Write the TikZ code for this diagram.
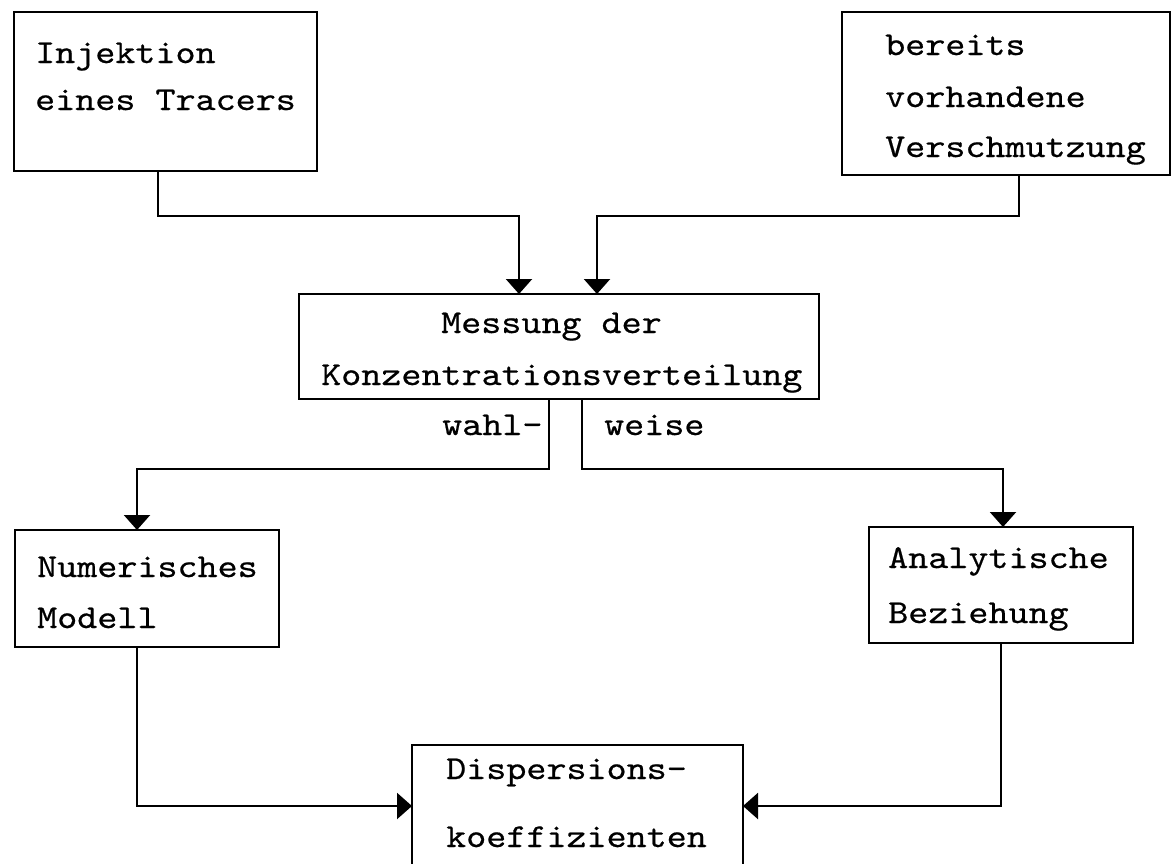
\documentclass[tikz,border=0pt]{standalone}
\usepackage{fontspec}
\newfontfamily\tw{lmmono10-regular.otf}[FakeStretch=1.14,FakeBold=0.5]
\usetikzlibrary{arrows.meta}
\begin{document}
\begin{tikzpicture}[x=1pt,y=-1pt,
  box/.style={draw, line width=2.2pt, inner sep=0pt, outer sep=0pt, rectangle},
  txt/.style={anchor=base west, inner sep=0pt, font=\tw\fontsize{33.5}{40}\selectfont},
  conn/.style={line width=2.2pt, -{Triangle[width=26pt,length=15pt]}}]
\useasboundingbox (0,0) rectangle (1173,863);
\clip (0,0) rectangle (1173,863);
\fill[white] (0,0) rectangle (1173,863);
% boxes
\node[box, minimum width=303pt, minimum height=159pt] (b1) at (165.5,91.5) {};
\node[box, minimum width=328pt, minimum height=163pt] (b2) at (1006,93.5) {};
\node[box, minimum width=520pt, minimum height=105pt] (b3) at (559,346.5) {};
\node[box, minimum width=264pt, minimum height=117pt] (b4) at (147,588.5) {};
\node[box, minimum width=264pt, minimum height=116pt] (b5) at (1001,585) {};
\node[box, minimum width=331pt, minimum height=146pt] (b6) at (577.5,818) {};
% texts
\node[txt] (t1a) at (35,63) {Injektion};
\node[txt] (t1b) at (35,110) {eines Tracers};
\node[txt] (t2a) at (885,55) {bereits};
\node[txt] (t2b) at (885,107) {vorhandene};
\node[txt] (t2c) at (885,157) {Verschmutzung};
\node[txt] (t3a) at (441,333) {Messung der};
\node[txt] (t3b) at (321,385) {Konzentrationsverteilung};
\node[txt] (tw1) at (442,435) {wahl-};
\node[txt] (tw2) at (604,435) {weise};
\node[txt] (t4a) at (37,577) {Numerisches};
\node[txt] (t4b) at (37,628) {Modell};
\node[txt] (t5a) at (888,568) {Analytische};
\node[txt] (t5b) at (888,623) {Beziehung};
\node[txt] (t6a) at (446,779) {Dispersions-};
\node[txt] (t6b) at (446,847) {koeffizienten};
% connectors
\draw[conn] ([xshift=144pt]b1.south west) -- ++(0,45) -| ([xshift=220pt]b3.north west);
\draw[conn] ([xshift=177pt]b2.south west) -- ++(0,41) -| ([xshift=298pt]b3.north west);
\draw[conn] ([xshift=250pt]b3.south west) -- ++(0,70) -| ([xshift=122pt]b4.north west);
\draw[conn] ([xshift=283pt]b3.south west) -- ++(0,70) -| ([xshift=134pt]b5.north west);
\draw[conn] ([xshift=122pt]b4.south west) |- ([yshift=-61pt]b6.north west);
\draw[conn] ([xshift=132pt]b5.south west) |- ([yshift=-61pt]b6.north east);
\end{tikzpicture}
\end{document}
